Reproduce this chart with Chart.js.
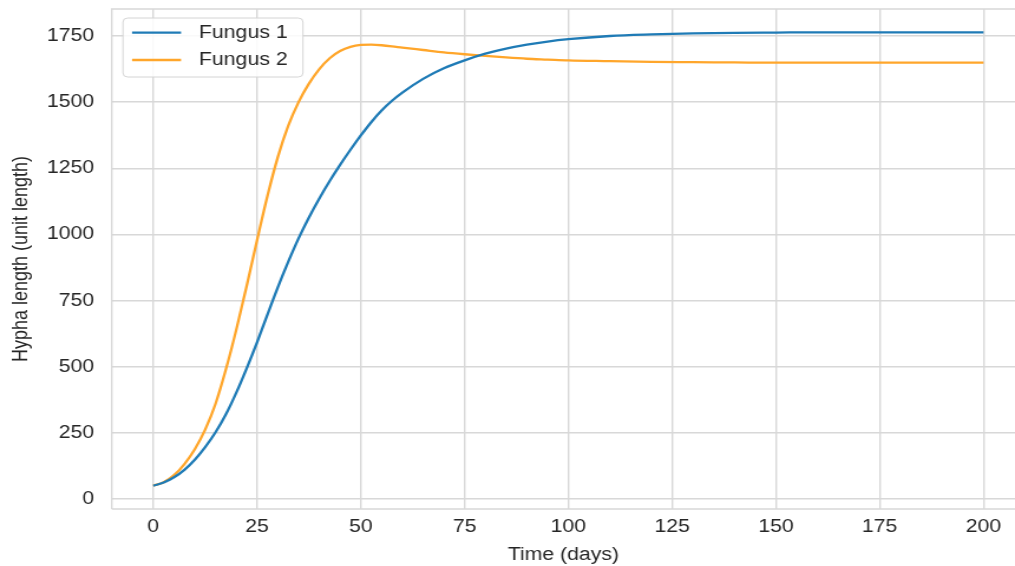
<!DOCTYPE html>
<html>
<head>
<meta charset="utf-8">
<script src="https://cdn.jsdelivr.net/npm/chart.js@4"></script>
<style>
  html, body { margin: 0; padding: 0; background: #ffffff; overflow: hidden; }
  #wrap { width: 860px; height: 566px; transform: scaleX(1.18023); transform-origin: 0 0; }
  canvas { display: block; }
</style>
</head>
<body>
<div id="wrap"><canvas id="c" width="860" height="566"></canvas></div>
<script>
// ---- data ----
const timeDays = [0, 2.5, 5, 7.5, 10, 12.5, 15, 17.5, 20, 22.5, 25, 27.5, 30, 32.5, 35, 37.5, 40, 42.5, 45, 47.5, 50, 52.5, 55, 57.5, 60, 65, 70, 75, 80, 85, 90, 95, 100, 110, 120, 130, 140, 150, 160, 170, 180, 190, 200];
const fungus1 = [50, 62, 82, 110, 148, 196, 252, 320, 402, 494, 592, 697, 800, 896, 985, 1064, 1136, 1202, 1263, 1320, 1374, 1424, 1468, 1505, 1536, 1588, 1628, 1658, 1683, 1702, 1717, 1729, 1738, 1750, 1756, 1760, 1762, 1763, 1764, 1764, 1764, 1764, 1764];
const fungus2 = [50, 63, 90, 132, 188, 262, 360, 490, 640, 805, 978, 1145, 1292, 1410, 1500, 1570, 1625, 1666, 1693, 1709, 1716, 1717, 1715, 1711, 1706, 1697, 1688, 1681, 1675, 1669, 1664, 1661, 1658, 1655, 1652, 1651, 1650, 1649, 1649, 1649, 1649, 1649, 1649];
const seriesNames = ['Fungus 1', 'Fungus 2'];
const xTickValues = [0, 25, 50, 75, 100, 125, 150, 175, 200];
const yTickValues = [0, 250, 500, 750, 1000, 1250, 1500, 1750];
const xAxisTitle = 'Time (days)';
const yAxisTitle = 'Hypha length (unit length)';

const colors = ['#1f7bb6', '#ffa62b'];
const FONT = '"Liberation Sans", Arial, sans-serif';
const TEXT = '#262626';
const GRID = '#d8d8d8';

const toPts = arr => arr.map((v, i) => ({x: timeDays[i], y: v}));

const framePlugin = {
  id: 'frame',
  beforeDatasetsDraw(chart) {
    const {ctx, chartArea: a} = chart;
    ctx.save();
    ctx.strokeStyle = GRID;
    ctx.lineWidth = 1.4;
    ctx.beginPath();
    ctx.moveTo(a.left, a.bottom);
    ctx.lineTo(a.left, a.top);
    ctx.lineTo(a.right, a.top);
    ctx.moveTo(a.left, a.bottom);
    ctx.lineTo(a.right, a.bottom);
    ctx.stroke();
    ctx.restore();
  }
};

const legendPlugin = {
  id: 'boxLegend',
  afterDatasetsDraw(chart) {
    const ctx = chart.ctx;
    const x = 104.2, y = 18, w = 152.5, h = 59, r = 4;
    ctx.save();
    ctx.beginPath();
    ctx.moveTo(x + r, y);
    ctx.lineTo(x + w - r, y);
    ctx.quadraticCurveTo(x + w, y, x + w, y + r);
    ctx.lineTo(x + w, y + h - r);
    ctx.quadraticCurveTo(x + w, y + h, x + w - r, y + h);
    ctx.lineTo(x + r, y + h);
    ctx.quadraticCurveTo(x, y + h, x, y + h - r);
    ctx.lineTo(x, y + r);
    ctx.quadraticCurveTo(x, y, x + r, y);
    ctx.closePath();
    ctx.fillStyle = 'rgba(255,255,255,0.85)';
    ctx.fill();
    ctx.strokeStyle = '#d4d4d4';
    ctx.lineWidth = 1;
    ctx.stroke();
    const rows = [32.7, 60];
    chart.data.datasets.forEach((ds, i) => {
      ctx.strokeStyle = ds.borderColor;
      ctx.lineWidth = 2.3;
      ctx.beginPath();
      ctx.moveTo(111.9, rows[i]);
      ctx.lineTo(153.4, rows[i]);
      ctx.stroke();
      ctx.fillStyle = TEXT;
      ctx.font = '18px ' + FONT;
      ctx.textAlign = 'left';
      ctx.textBaseline = 'middle';
      ctx.fillText(ds.label, 168.6, rows[i]);
    });
    ctx.restore();
  }
};

const zeroPad = s => { s.paddingTop = 0; s.paddingBottom = 0; s.paddingLeft = 0; s.paddingRight = 0; };

new Chart(document.getElementById('c'), {
  type: 'line',
  data: {
    datasets: [
      { label: seriesNames[0], data: toPts(fungus1), borderColor: colors[0], backgroundColor: colors[0], borderWidth: 2.3, pointRadius: 0, cubicInterpolationMode: 'monotone', fill: false },
      { label: seriesNames[1], data: toPts(fungus2), borderColor: colors[1], backgroundColor: colors[1], borderWidth: 2.3, pointRadius: 0, cubicInterpolationMode: 'monotone', fill: false }
    ]
  },
  options: {
    responsive: false,
    animation: false,
    devicePixelRatio: 1,
    layout: { padding: { top: 9, right: 0, bottom: 0, left: 0 } },
    plugins: { legend: { display: false }, tooltip: { enabled: false } },
    scales: {
      x: {
        type: 'linear',
        min: -10,
        max: 207.6,
        afterBuildTicks: s => { s.ticks = xTickValues.map(v => ({value: v})); },
        afterFit: s => { s.height = 57; zeroPad(s); },
        grid: { color: GRID, lineWidth: 1.4, drawTicks: false },
        border: { display: false },
        ticks: { padding: 7, color: TEXT, font: { family: FONT, size: 18 }, maxRotation: 0, autoSkip: false, callback: v => String(v) },
        title: { display: true, text: xAxisTitle, color: TEXT, font: { family: FONT, size: 18 }, padding: { top: 0, bottom: 0 } }
      },
      y: {
        type: 'linear',
        min: -38,
        max: 1852,
        afterBuildTicks: s => { s.ticks = yTickValues.map(v => ({value: v})); },
        afterFit: s => { s.width = 94.7; zeroPad(s); },
        grid: { color: GRID, lineWidth: 1.4, drawTicks: false },
        border: { display: false },
        ticks: { padding: 15, color: TEXT, font: { family: FONT, size: 18 }, autoSkip: false, callback: v => String(v) },
        title: { display: true, text: yAxisTitle, color: TEXT, font: { family: FONT, size: 18 }, padding: { top: 7.6, bottom: 0 } }
      }
    }
  },
  plugins: [framePlugin, legendPlugin]
});
</script>
</body>
</html>
